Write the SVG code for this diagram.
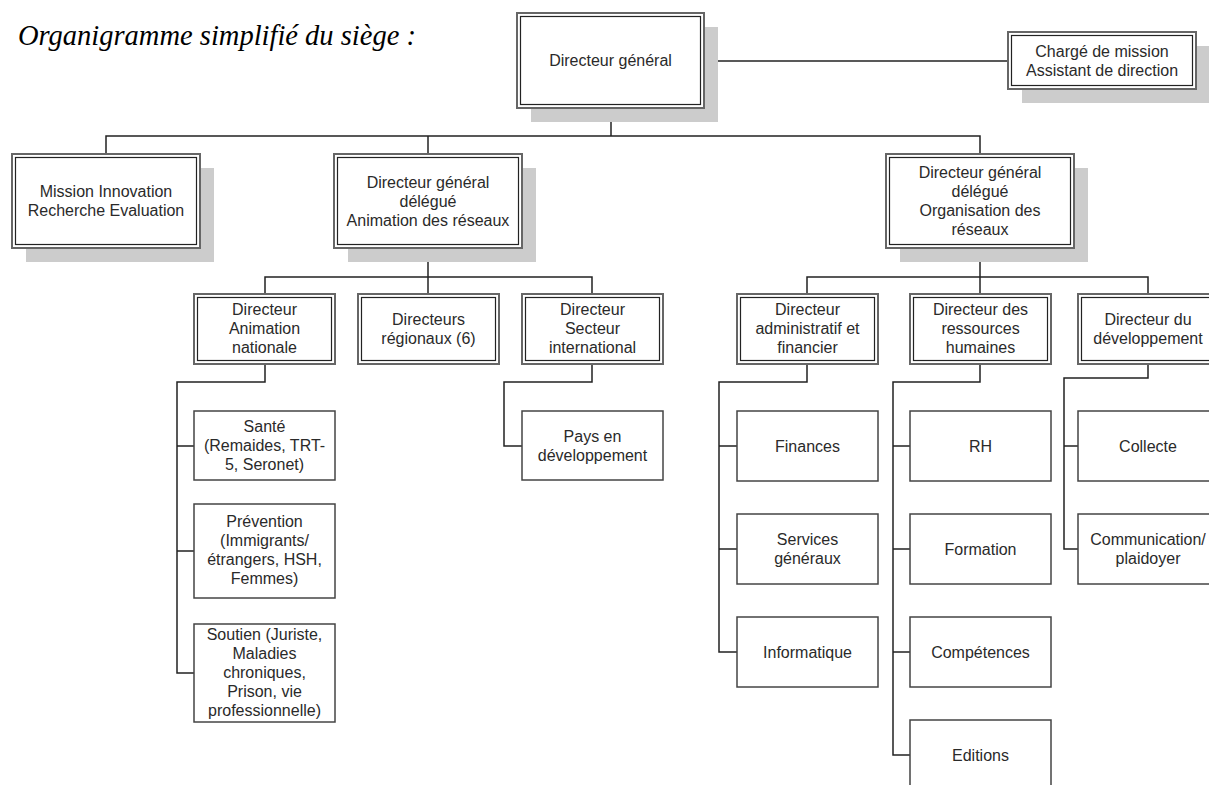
<svg xmlns="http://www.w3.org/2000/svg" width="1209" height="785" viewBox="0 0 1209 785">
<style>
.bg{fill:#ffffff}
.sh{fill:#cccccc}
.o{fill:#ffffff;stroke:#666666;stroke-width:2}
.i{fill:none;stroke:#222222;stroke-width:1.2}
.s{fill:#ffffff;stroke:#444444;stroke-width:1.5}
.t{font-family:"Liberation Sans",Arial,sans-serif;font-size:16px;fill:#2a2a2a;text-anchor:middle}
.title{font-family:"Liberation Serif","Times New Roman",serif;font-style:italic;font-size:28.5px;fill:#000000}
.c{fill:none;stroke:#222222;stroke-width:1.5}
</style>
<rect class="bg" x="0" y="0" width="1209" height="785"/>
<text class="title" x="18" y="45">Organigramme simplifié du siège :</text>

<g id="connectors">
<path class="c" d="M704 61H1008"/>
<path class="c" d="M611 108V136"/>
<path class="c" d="M106 154V136H980V154"/>
<path class="c" d="M428 136V154"/>
<path class="c" d="M428 248V277"/>
<path class="c" d="M265 294V277H592V294"/>
<path class="c" d="M428 277V294"/>
<path class="c" d="M980 248V277"/>
<path class="c" d="M807 294V277H1148V294"/>
<path class="c" d="M980 277V294"/>
<path class="c" d="M265 364V382H177V673H194"/>
<path class="c" d="M177 446H194M177 551H194"/>
<path class="c" d="M592 364V382H504V446H522"/>
<path class="c" d="M807 364V382H719V652H737"/>
<path class="c" d="M719 446H737M719 549H737"/>
<path class="c" d="M980 364V382H893V755H910"/>
<path class="c" d="M893 446H910M893 549H910M893 652H910"/>
<path class="c" d="M1148 364V378H1064V549H1078"/>
<path class="c" d="M1064 446H1078"/>
</g>

<g id="n-dg">
<rect class="sh" x="531" y="27" width="187" height="95"/>
<rect class="o" x="517" y="13" width="187" height="95"/>
<rect class="i" x="520.5" y="16.5" width="180" height="88"/>
<text class="t" x="610.5" y="66">Directeur général</text>
</g>

<g id="n-charge">
<rect class="sh" x="1022" y="46" width="188" height="57"/>
<rect class="o" x="1008" y="32" width="188" height="57"/>
<rect class="i" x="1011.5" y="35.5" width="181" height="50"/>
<text class="t" x="1102" y="56.5">Chargé de mission</text>
<text class="t" x="1102" y="75.5">Assistant de direction</text>
</g>

<g id="n-mission">
<rect class="sh" x="26" y="168" width="188" height="94"/>
<rect class="o" x="12" y="154" width="188" height="94"/>
<rect class="i" x="15.5" y="157.5" width="181" height="87"/>
<text class="t" x="106" y="197">Mission Innovation</text>
<text class="t" x="106" y="216">Recherche Evaluation</text>
</g>

<g id="n-dgd-anim">
<rect class="sh" x="348" y="168" width="188" height="94"/>
<rect class="o" x="334" y="154" width="188" height="94"/>
<rect class="i" x="337.5" y="157.5" width="181" height="87"/>
<text class="t" x="428" y="187.5">Directeur général</text>
<text class="t" x="428" y="206.5">délégué</text>
<text class="t" x="428" y="225.5">Animation des réseaux</text>
</g>

<g id="n-dgd-org">
<rect class="sh" x="900" y="168" width="188" height="94"/>
<rect class="o" x="886" y="154" width="188" height="94"/>
<rect class="i" x="889.5" y="157.5" width="181" height="87"/>
<text class="t" x="980" y="178">Directeur général</text>
<text class="t" x="980" y="197">délégué</text>
<text class="t" x="980" y="216">Organisation des</text>
<text class="t" x="980" y="235">réseaux</text>
</g>

<g id="n-dan">
<rect class="o" x="194" y="294" width="141" height="70"/>
<rect class="i" x="197.5" y="297.5" width="134" height="63"/>
<text class="t" x="264.5" y="315">Directeur</text>
<text class="t" x="264.5" y="334">Animation</text>
<text class="t" x="264.5" y="353">nationale</text>
</g>

<g id="n-dr">
<rect class="o" x="358" y="294" width="141" height="70"/>
<rect class="i" x="361.5" y="297.5" width="134" height="63"/>
<text class="t" x="428.5" y="325">Directeurs</text>
<text class="t" x="428.5" y="344">régionaux (6)</text>
</g>

<g id="n-dsi">
<rect class="o" x="522" y="294" width="141" height="70"/>
<rect class="i" x="525.5" y="297.5" width="134" height="63"/>
<text class="t" x="592.5" y="315">Directeur</text>
<text class="t" x="592.5" y="334">Secteur</text>
<text class="t" x="592.5" y="353">international</text>
</g>

<g id="n-daf">
<rect class="o" x="737" y="294" width="141" height="70"/>
<rect class="i" x="740.5" y="297.5" width="134" height="63"/>
<text class="t" x="807.5" y="315">Directeur</text>
<text class="t" x="807.5" y="334">administratif et</text>
<text class="t" x="807.5" y="353">financier</text>
</g>

<g id="n-drh">
<rect class="o" x="910" y="294" width="141" height="70"/>
<rect class="i" x="913.5" y="297.5" width="134" height="63"/>
<text class="t" x="980.5" y="315">Directeur des</text>
<text class="t" x="980.5" y="334">ressources</text>
<text class="t" x="980.5" y="353">humaines</text>
</g>

<g id="n-dev">
<rect class="o" x="1078" y="294" width="141" height="70"/>
<rect class="i" x="1081.5" y="297.5" width="134" height="63"/>
<text class="t" x="1148" y="325">Directeur du</text>
<text class="t" x="1148" y="344">développement</text>
</g>

<g id="n-sante">
<rect class="s" x="194" y="411" width="141" height="69"/>
<text class="t" x="264.5" y="432">Santé</text>
<text class="t" x="264.5" y="451">(Remaides, TRT-</text>
<text class="t" x="264.5" y="470">5, Seronet)</text>
</g>

<g id="n-prevention">
<rect class="s" x="194" y="504" width="141" height="94"/>
<text class="t" x="264.5" y="527">Prévention</text>
<text class="t" x="264.5" y="546">(Immigrants/</text>
<text class="t" x="264.5" y="565">étrangers, HSH,</text>
<text class="t" x="264.5" y="584">Femmes)</text>
</g>

<g id="n-soutien">
<rect class="s" x="194" y="624" width="141" height="98"/>
<text class="t" x="264.5" y="640">Soutien (Juriste,</text>
<text class="t" x="264.5" y="659">Maladies</text>
<text class="t" x="264.5" y="678">chroniques,</text>
<text class="t" x="264.5" y="697">Prison, vie</text>
<text class="t" x="264.5" y="716">professionnelle)</text>
</g>

<g id="n-pays">
<rect class="s" x="522" y="411" width="141" height="69"/>
<text class="t" x="592.5" y="441.5">Pays en</text>
<text class="t" x="592.5" y="460.5">développement</text>
</g>

<g id="n-finances">
<rect class="s" x="737" y="411" width="141" height="70"/>
<text class="t" x="807.5" y="451.5">Finances</text>
</g>

<g id="n-services">
<rect class="s" x="737" y="514" width="141" height="70"/>
<text class="t" x="807.5" y="545">Services</text>
<text class="t" x="807.5" y="564">généraux</text>
</g>

<g id="n-informatique">
<rect class="s" x="737" y="617" width="141" height="70"/>
<text class="t" x="807.5" y="657.5">Informatique</text>
</g>

<g id="n-rh">
<rect class="s" x="910" y="411" width="141" height="70"/>
<text class="t" x="980.5" y="451.5">RH</text>
</g>

<g id="n-formation">
<rect class="s" x="910" y="514" width="141" height="70"/>
<text class="t" x="980.5" y="554.5">Formation</text>
</g>

<g id="n-competences">
<rect class="s" x="910" y="617" width="141" height="70"/>
<text class="t" x="980.5" y="657.5">Compétences</text>
</g>

<g id="n-editions">
<rect class="s" x="910" y="720" width="141" height="70"/>
<text class="t" x="980.5" y="760.5">Editions</text>
</g>

<g id="n-collecte">
<rect class="s" x="1078" y="411" width="141" height="70"/>
<text class="t" x="1148" y="451.5">Collecte</text>
</g>

<g id="n-communication">
<rect class="s" x="1078" y="514" width="141" height="70"/>
<text class="t" x="1148" y="545">Communication/</text>
<text class="t" x="1148" y="564">plaidoyer</text>
</g>
</svg>
